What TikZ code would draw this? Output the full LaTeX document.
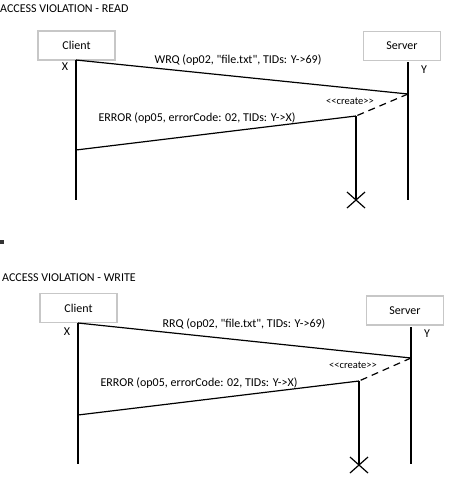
\documentclass[tikz,border=0pt]{standalone}
\usepackage{fontspec}
\setmainfont{Carlito}[Ligatures=TeXOff]
\begin{document}
\begin{tikzpicture}[x=1pt,y=-1pt,
  objbox/.style={draw=black!22,line width=1.2pt,minimum width=77pt,minimum height=29pt,inner sep=0pt,font=\fontsize{12}{14}\selectfont},
  lbl/.style={inner sep=0pt,font=\fontsize{12}{14}\selectfont},
  small/.style={inner sep=0pt,font=\fontsize{10.5}{12}\selectfont},
  life/.style={line width=1.2pt},
  msg/.style={line width=1.2pt},
  crt/.style={line width=1.2pt,dash pattern=on 7pt off 5pt}]
\useasboundingbox (0,0) rectangle (455,485);
% ---------- top ----------
\node[lbl,anchor=west] (t1) at (0,9) {ACCESS VIOLATION - READ};
\node[objbox] (c1) at (76.5,45.5) {Client};
\node[objbox] (s1) at (402,46) {Server};
\node[lbl] (x1) at (65,67) {X};
\node[lbl] (y1) at (424,70) {Y};
\coordinate (c1top) at (76,60);
\coordinate (c1bot) at (76,200);
\coordinate (s1top) at (408,62);
\coordinate (s1bot) at (408,200);
\coordinate (s1m) at (408,94);
\coordinate (n1top) at (356,116);
\coordinate (n1end) at (356,200);
\coordinate (c1m) at (76,150);
\draw[life] (c1top) -- (c1bot);
\draw[life] (s1top) -- (s1bot);
\draw[msg] (c1top) -- (s1m);
\node[lbl] (w1) at (238,60) {WRQ (op02, "file.txt", TIDs: Y->69)};
\draw[crt] (s1m) -- (n1top);
\node[small] (cr1) at (350,101) {<<create>>};
\draw[life] (n1top) -- (n1end);
\draw[line width=1.2pt] ([shift={(-9,-8)}]n1end) -- ([shift={(9,8)}]n1end)
  ([shift={(-9,8)}]n1end) -- ([shift={(9,-8)}]n1end);
\draw[msg] (n1top) -- (c1m);
\node[lbl] (e1) at (197,118) {ERROR (op05, errorCode: 02, TIDs: Y->X)};
\node[fill=black!80,minimum size=4pt,inner sep=0pt] (sq) at (2,241.5) {};
% ---------- bottom ----------
\node[lbl,anchor=west] (t2) at (2,278) {ACCESS VIOLATION - WRITE};
\node[objbox] (c2) at (78.5,308) {Client};
\node[objbox] (s2) at (405,310.5) {Server};
\node[lbl] (x2) at (67,332) {X};
\node[lbl] (y2) at (427,334) {Y};
\coordinate (c2top) at (78,323);
\coordinate (c2bot) at (78,464);
\coordinate (s2top) at (411,327);
\coordinate (s2bot) at (411,464);
\coordinate (s2m) at (411,358);
\coordinate (n2top) at (359,381);
\coordinate (n2end) at (359,465);
\coordinate (c2m) at (78,415);
\draw[life] (c2top) -- (c2bot);
\draw[life] (s2top) -- (s2bot);
\draw[msg] (c2top) -- (s2m);
\node[lbl] (w2) at (244,324) {RRQ (op02, "file.txt", TIDs: Y->69)};
\draw[crt] (s2m) -- (n2top);
\node[small] (cr2) at (353,365) {<<create>>};
\draw[life] (n2top) -- (n2end);
\draw[line width=1.2pt] ([shift={(-9,-8)}]n2end) -- ([shift={(9,8)}]n2end)
  ([shift={(-9,8)}]n2end) -- ([shift={(9,-8)}]n2end);
\draw[msg] (n2top) -- (c2m);
\node[lbl] (e2) at (199,383) {ERROR (op05, errorCode: 02, TIDs: Y->X)};
\end{tikzpicture}
\end{document}
